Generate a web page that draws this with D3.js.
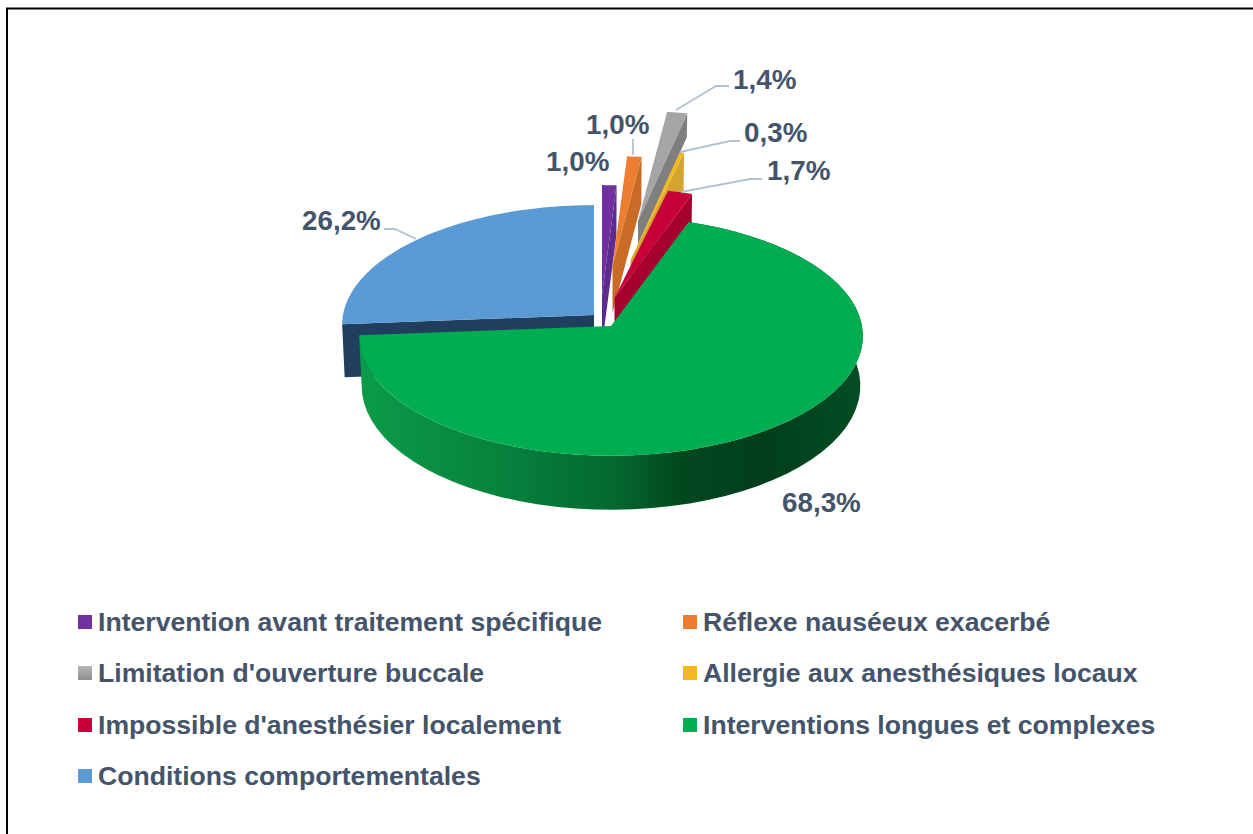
<!DOCTYPE html>
<html><head><meta charset="utf-8">
<script src="https://cdn.jsdelivr.net/npm/d3@7"></script>
<style>html,body{margin:0;padding:0;background:#fff}svg{display:block}text{font-family:"Liberation Sans",Arial,sans-serif;font-weight:700;fill:#44546a}</style>
</head><body><script>
// data
const categories=["Intervention avant traitement spécifique","Réflexe nauséeux exacerbé","Limitation d'ouverture buccale","Allergie aux anesthésiques locaux","Impossible d'anesthésier localement","Interventions longues et complexes","Conditions comportementales"];
const values=[1.0,1.0,1.4,0.3,1.7,68.3,26.2];
const valueLabels=["1,0%","1,0%","1,4%","0,3%","1,7%","68,3%","26,2%"];
// styles
const faceColors=["#7030a0","#ed7d31","#a5a5a5","#f4b81c","#c8003a","#00ad50","#5b9bd5"];
const wallColors=["#5f2b8e","#c96a25","#7f7f7f","#d4a52e","#a5002f","#04682f","#203f5e"];
// layout
const W=1253,H=834,cx=611,cy=326,A=251,B=119,K=0.083,RIM=49.5;
const offX=[-9,1.5,27,19.5,3.5,0,-17];
const offY=[-31,-60,-105,-66,-28,0,-11];
const wallDepth=[50,47,24,40,50,0,53];
const drawOrder=[6,0,1,2,3,4,5];
const labelX=[546,586,733,744,767,782,302];
const labelY=[161,124,79,132,170,502,220];
const leaderRuns=[null,[[633,155],[633,139]],[[676,110],[716,86],[729,86]],[[680,152],[730,141],[740,141]],[[681,192],[750,179],[762,179]],null,[[416,239],[395,229],[384,229]]];
const legendCols=[78,683],legendRows=[622,673,725,776];

const x=d3.scaleLinear().domain([-1,1]).range([cx-A,cx+A]);
const y=d3.scaleLinear().domain([-1,1]).range([cy-B,cy+B]);
const P=(t,r,i,z)=>{const u=r*Math.sin(t),v=-r*Math.cos(t),s=1/(1-K*v);
  return [x(u*s*(z?0.99:1))+offX[i], y(v*s)+offY[i]+(z?z*(z===RIM?s:1):0)];};
const arcs=d3.pie().sort(null).value(d=>d)(values);
const arcPts=(a,b,i,z)=>d3.range(0,61).map(k=>P(a+(b-a)*k/60,1,i,z));
const line=d3.line();

const svg=d3.select("body").append("svg").attr("width",W).attr("height",H);
const defs=svg.append("defs");
const grad=defs.append("linearGradient").attr("id","rim").attr("gradientUnits","userSpaceOnUse")
 .attr("x1",x(-1)).attr("x2",x(1)).attr("y1",0).attr("y2",0);
[[0,"#0b9c49"],[0.28,"#07823d"],[0.5,"#046a30"],[0.64,"#02481f"],[0.8,"#013e1b"],[1,"#024d24"]]
 .forEach(s=>grad.append("stop").attr("offset",s[0]).attr("stop-color",s[1]));
const lg=defs.append("linearGradient").attr("id","grayMark").attr("x1",0).attr("x2",0).attr("y1",0).attr("y2",1);
lg.append("stop").attr("offset",0).attr("stop-color","#b5b5b5");lg.append("stop").attr("offset",1).attr("stop-color","#8f8f8f");

// frame
svg.append("path").attr("d",line([[7,H],[7,8.5],[W,8.5]])).attr("fill","none").attr("stroke","#000").attr("stroke-width",2);

const pie=svg.append("g");
drawOrder.forEach(i=>{
 const d=arcs[i],a=d.startAngle,b=d.endAngle,g=pie.append("g");
 const apex=P(0,0,i);
 if(wallDepth[i]){
  const t=(a+b)/2>Math.PI?a:b,D=wallDepth[i];
  g.append("path").attr("d",line([apex,P(t,1,i),P(t,1,i,D),P(0,0,i,D)])+"Z").attr("fill",wallColors[i]);
 } else {
  g.append("path").attr("d",line([...arcPts(a,b,i),...arcPts(a,b,i,RIM).reverse()])+"Z").attr("fill","url(#rim)");
 }
 g.append("path").attr("d",line([apex,...arcPts(a,b,i)])+"Z").attr("fill",faceColors[i]);
});

// leaders
svg.append("g").selectAll("path").data(leaderRuns.filter(Boolean)).join("path")
 .attr("d",d=>line(d)).attr("fill","none").attr("stroke","#b4c1d2").attr("stroke-width",1.8);

// data labels
svg.append("g").selectAll("text").data(valueLabels).join("text")
 .attr("x",(d,i)=>labelX[i]).attr("y",(d,i)=>labelY[i]).attr("dy","0.35em")
 .attr("font-size",27.8).text(d=>d);

// legend
const leg=svg.append("g").selectAll("g").data(categories).join("g")
 .attr("transform",(d,i)=>`translate(${legendCols[i%2]},${legendRows[Math.floor(i/2)]})`);
leg.append("rect").attr("x",0).attr("y",-7).attr("width",14).attr("height",14)
 .attr("fill",(d,i)=>i===2?"url(#grayMark)":faceColors[i]);
leg.append("text").attr("x",20).attr("dy","0.35em").attr("font-size",26.6).text(d=>d);
</script></body></html>
